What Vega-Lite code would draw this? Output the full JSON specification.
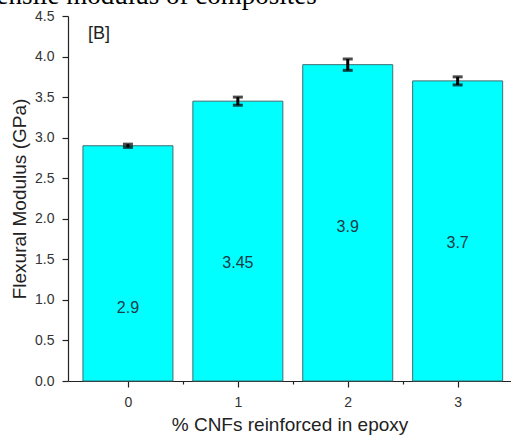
{
  "$schema": "https://vega.github.io/schema/vega-lite/v6.json",
  "width": 443,
  "height": 365,
  "autosize": {"type": "none"},
  "padding": {"left": 68, "top": 16, "right": 0, "bottom": 58},
  "background": "white",
  "title": {
    "text": "Tensile modulus of composites",
    "anchor": "start",
    "frame": "group",
    "font": "Liberation Serif",
    "fontSize": 27,
    "fontWeight": "normal",
    "color": "black",
    "baseline": "alphabetic",
    "offset": 0,
    "dx": -86,
    "dy": 22
  },
  "config": {
    "view": {"stroke": null},
    "axis": {
      "labelFont": "Liberation Sans",
      "titleFont": "Liberation Sans",
      "labelFontSize": 14,
      "titleFontSize": 19,
      "titleFontWeight": "normal",
      "labelColor": "#333333",
      "titleColor": "#222222",
      "domainColor": "#222222",
      "tickColor": "#222222",
      "domainWidth": 1.2,
      "tickWidth": 1.2,
      "grid": false
    }
  },
  "data": {
    "values": [
      {"pct": 0, "modulus": 2.9, "err": 0.02, "label": "2.9"},
      {"pct": 1, "modulus": 3.45, "err": 0.05, "label": "3.45"},
      {"pct": 2, "modulus": 3.9, "err": 0.07, "label": "3.9"},
      {"pct": 3, "modulus": 3.7, "err": 0.05, "label": "3.7"}
    ]
  },
  "layer": [
    {
      "mark": {"type": "bar", "width": 90, "fill": "#00FFFF", "stroke": "#3d6e72", "strokeWidth": 1},
      "encoding": {
        "x": {
          "field": "pct",
          "type": "quantitative",
          "title": "% CNFs reinforced in epoxy",
          "scale": {"domain": [-0.5, 3.44], "nice": false, "zero": false},
          "axis": {
            "values": [0, 0.5, 1, 1.5, 2, 2.5, 3],
            "labelExpr": "datum.value % 1 === 0 ? format(datum.value, 'd') : ''",
            "tickSize": {"condition": {"test": "datum.value % 1 === 0", "value": 6}, "value": 3},
            "labelPadding": 8,
            "titlePadding": 6,
            "labelOverlap": false
          }
        },
        "y": {
          "field": "modulus",
          "type": "quantitative",
          "title": "Flexural Modulus (GPa)",
          "scale": {"domain": [0, 4.5], "nice": false},
          "axis": {
            "values": [0, 0.25, 0.5, 0.75, 1, 1.25, 1.5, 1.75, 2, 2.25, 2.5, 2.75, 3, 3.25, 3.5, 3.75, 4, 4.25, 4.5],
            "labelExpr": "datum.value % 0.5 === 0 ? format(datum.value, '.1f') : ''",
            "tickSize": {"condition": {"test": "datum.value % 0.5 === 0", "value": 6}, "value": 3},
            "labelPadding": 8,
            "titlePadding": 5,
            "labelOverlap": false
          }
        }
      }
    },
    {
      "mark": {
        "type": "errorbar",
        "ticks": {"size": 10, "thickness": 3, "color": "black"},
        "rule": {"strokeWidth": 3, "color": "black"}
      },
      "encoding": {
        "x": {"field": "pct", "type": "quantitative", "title": "% CNFs reinforced in epoxy"},
        "y": {"field": "modulus", "type": "quantitative", "title": "Flexural Modulus (GPa)"},
        "yError": {"field": "err"}
      }
    },
    {
      "mark": {"type": "text", "font": "Liberation Sans", "fontSize": 16, "color": "#1c3a48", "dy": 162, "baseline": "middle"},
      "encoding": {
        "x": {"field": "pct", "type": "quantitative", "title": "% CNFs reinforced in epoxy"},
        "y": {"field": "modulus", "type": "quantitative", "title": "Flexural Modulus (GPa)"},
        "text": {"field": "label"}
      }
    },
    {
      "data": {"values": [{"panel": "[B]"}]},
      "mark": {"type": "text", "font": "Liberation Sans", "fontSize": 18, "color": "#222222", "align": "center", "baseline": "middle"},
      "encoding": {
        "x": {"datum": -0.264},
        "y": {"datum": 4.28},
        "text": {"field": "panel"}
      }
    }
  ]
}
